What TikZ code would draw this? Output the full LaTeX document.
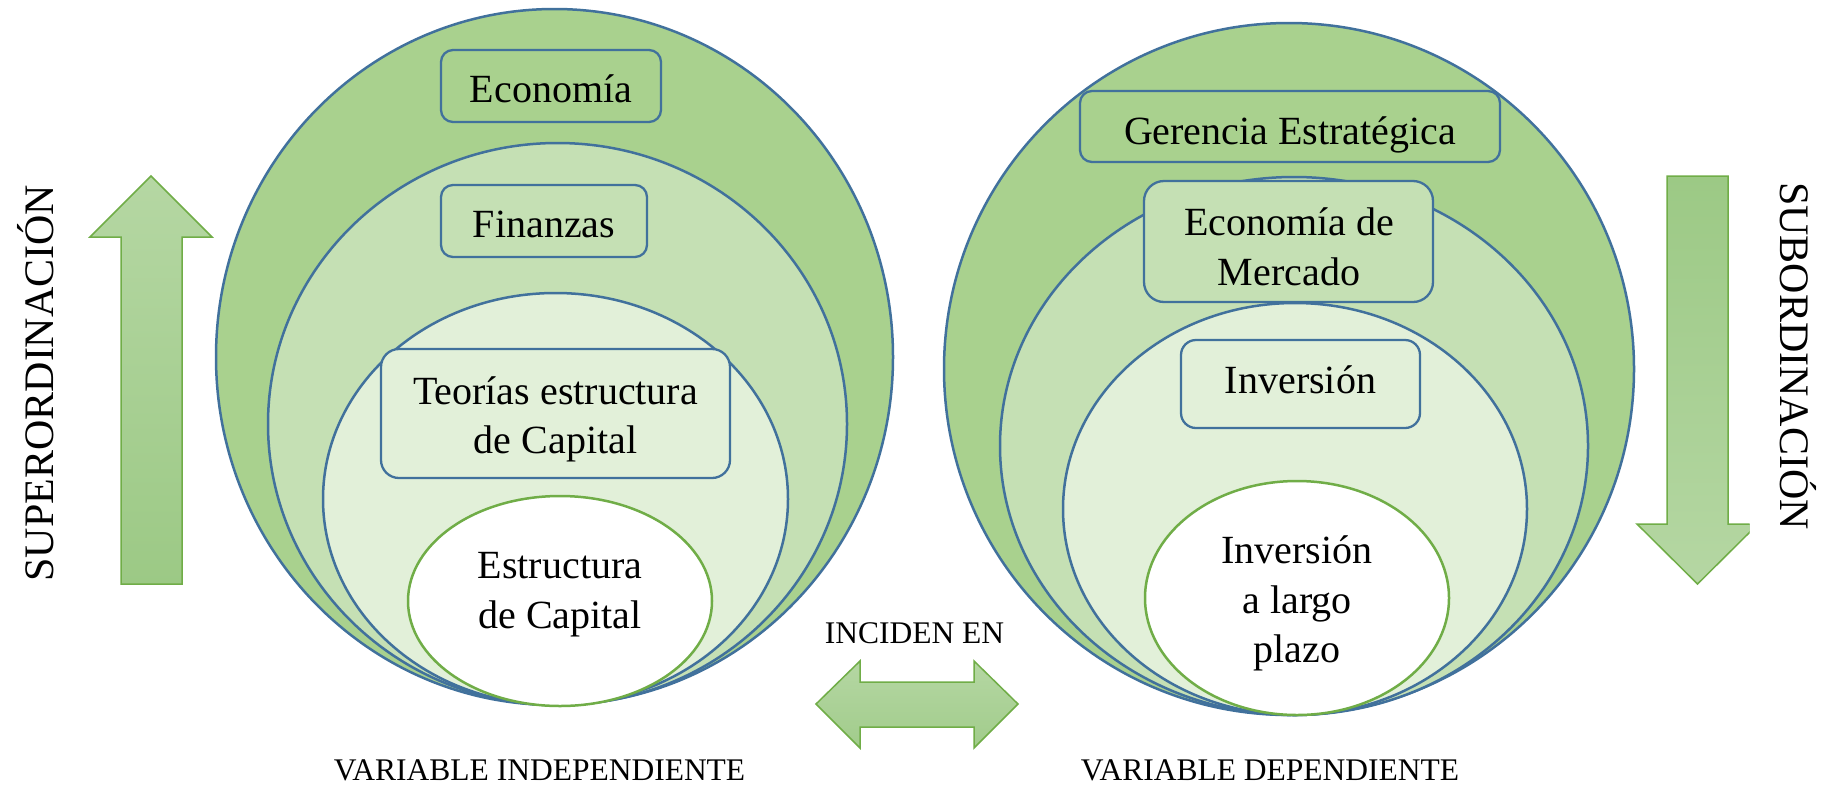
\documentclass[tikz,border=0pt]{standalone}
\usepackage{fontspec}
\setmainfont{Liberation Serif}
\usetikzlibrary{shapes.geometric}
\definecolor{ringA}{HTML}{A9D18E}
\definecolor{ringB}{HTML}{C5E0B4}
\definecolor{ringC}{HTML}{E2F0D9}
\definecolor{edgeblue}{HTML}{41719C}
\definecolor{edgegreen}{HTML}{70AD47}
\definecolor{arrowlight}{HTML}{B5D7A3}
\definecolor{arrowdark}{HTML}{9CC985}
\tikzset{
  ring/.style={ellipse, draw=edgeblue, line width=2.5pt, inner sep=0pt},
  core/.style={ellipse, draw=edgegreen, line width=2.5pt, fill=white, inner sep=0pt},
  labelbox/.style={rectangle, draw=edgeblue, line width=2.3pt, inner sep=0pt},
  txt/.style={inner sep=0pt, anchor=base, font=\fontsize{40}{49}\selectfont},
  sidetxt/.style={inner sep=0pt, anchor=base, font=\fontsize{42}{50}\selectfont},
  smalltxt/.style={inner sep=0pt, anchor=base, font=\fontsize{31.5}{38}\selectfont},
  bigarrow/.style={draw=edgegreen, line width=1.5pt, line join=miter},
}
\begin{document}
\begin{tikzpicture}[x=1pt, y=-1pt]
\useasboundingbox (0,0) rectangle (1836,785);
\fill[white] (0,0) rectangle (1836,785);

% ---------- left set ----------
\node[ring, fill=ringA, minimum width=677pt, minimum height=696pt] (L1) at (554.5,357) {};
\node[ring, fill=ringB, minimum width=579pt, minimum height=562pt] (L2) at (557.5,424) {};
\node[ring, fill=ringC, minimum width=465pt, minimum height=412pt] (L3) at (555.5,499) {};
\node[labelbox, fill=ringA, rounded corners=12pt, minimum width=220pt, minimum height=72pt] (eco) at (551,86) {};
\node[labelbox, fill=ringB, rounded corners=12pt, minimum width=206pt, minimum height=72pt] (fin) at (544,221) {};
\node[labelbox, fill=ringC, rounded corners=18pt, minimum width=349pt, minimum height=129pt] (teo) at (555.5,413.5) {};
\node[core, minimum width=304pt, minimum height=210pt] (L4) at (560,601) {};

\node[txt] (ecot) at (551,102) {Economía};
\node[txt] (fint) at (544,237) {Finanzas};
\node[txt] (teot1) at (555.5,404) {Teorías estructura};
\node[txt] (teot2) at (555.5,453) {de Capital};
\node[txt] (estt1) at (560,578) {Estructura};
\node[txt] (estt2) at (560,628) {de Capital};

% ---------- right set ----------
\node[ring, fill=ringA, minimum width=690pt, minimum height=692pt] (R1) at (1289,369) {};
\node[ring, fill=ringB, minimum width=588pt, minimum height=538pt] (R2) at (1294,446) {};
\node[ring, fill=ringC, minimum width=464pt, minimum height=412pt] (R3) at (1295,509) {};
\node[labelbox, fill=ringA, rounded corners=12pt, minimum width=420pt, minimum height=71pt] (ger) at (1290,126.5) {};
\node[labelbox, fill=ringB, rounded corners=20pt, minimum width=289pt, minimum height=121pt] (mer) at (1288.5,241.5) {};
\node[labelbox, fill=ringC, rounded corners=15pt, minimum width=239pt, minimum height=88pt] (inv) at (1300.5,384) {};
\node[core, minimum width=304pt, minimum height=234pt] (R4) at (1297,598) {};

\node[txt] (gert) at (1290,144) {Gerencia Estratégica};
\node[txt] (mert1) at (1289,235) {Economía de};
\node[txt] (mert2) at (1289,285) {Mercado};
\node[txt] (invt) at (1300.5,393) {Inversión};
\node[txt] (ilp1) at (1297,563) {Inversión};
\node[txt] (ilp2) at (1297,613) {a largo};
\node[txt] (ilp3) at (1297,662) {plazo};

% ---------- arrows ----------
\draw[bigarrow, top color=arrowlight, bottom color=arrowdark]
  (151,176) -- (212,237) -- (182,237) -- (182,584) -- (121,584) -- (121,237) -- (90,237) -- cycle;
\begin{scope}
  \clip (1600,0) rectangle (1749.5,785);
  \draw[bigarrow, top color=arrowdark, bottom color=arrowlight]
    (1667,176) -- (1728,176) -- (1728,524) -- (1758,524) -- (1697.5,584) -- (1637,524) -- (1667,524) -- cycle;
\end{scope}
\draw[bigarrow, top color=arrowlight, bottom color=arrowdark!80!arrowlight]
  (816,704) -- (860,661) -- (860,682) -- (974,682) -- (974,661) -- (1018,704)
  -- (974,748) -- (974,727) -- (860,727) -- (860,748) -- cycle;

% ---------- labels ----------
\node[sidetxt, rotate=90] (sup) at (53,383) {SUPERORDINACIÓN};
\node[sidetxt, rotate=-90] (sub) at (1780,356) {SUBORDINACIÓN};
\node[smalltxt] (inc) at (914.5,643) {INCIDEN EN};
\node[smalltxt] (vi) at (539.5,780) {VARIABLE INDEPENDIENTE};
\node[smalltxt] (vd) at (1270,780) {VARIABLE DEPENDIENTE};
\end{tikzpicture}
\end{document}
